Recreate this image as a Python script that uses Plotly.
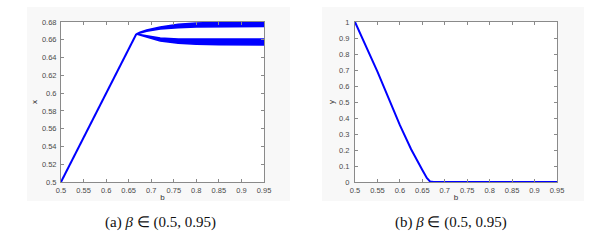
import plotly.graph_objects as go

# ---- data ----
b_rise = [0.5, 0.55, 0.6, 0.65, 0.667]
x_rise = [0.5, 0.55, 0.6, 0.65, 0.6665]

b_split = [0.667, 0.675, 0.69, 0.72, 0.76, 0.80, 0.85, 0.90, 0.95]
upper_hi = [0.6665, 0.6685, 0.6710, 0.6745, 0.6775, 0.6790, 0.6795, 0.6795, 0.6795]
upper_lo = [0.6665, 0.6680, 0.6695, 0.6720, 0.6735, 0.6745, 0.6748, 0.6748, 0.6748]
lower_hi = [0.6665, 0.6660, 0.6645, 0.6620, 0.6610, 0.6610, 0.6610, 0.6610, 0.6610]
lower_lo = [0.6665, 0.6655, 0.6630, 0.6585, 0.6560, 0.6550, 0.6545, 0.6540, 0.6540]

b_y = [0.5, 0.55, 0.6, 0.625, 0.65, 0.66, 0.667, 0.675, 0.95]
y_vals = [1.0, 0.69, 0.355, 0.205, 0.075, 0.025, 0.004, 0.0, 0.0]

x_ticks = [0.5, 0.55, 0.6, 0.65, 0.7, 0.75, 0.8, 0.85, 0.9, 0.95]
x_ticklabels = ["0.5", "0.55", "0.6", "0.65", "0.7", "0.75", "0.8", "0.85", "0.9", "0.95"]
left_yticks = [0.5, 0.52, 0.54, 0.56, 0.58, 0.6, 0.62, 0.64, 0.66, 0.68]
left_yticklabels = ["0.5", "0.52", "0.54", "0.56", "0.58", "0.6", "0.62", "0.64", "0.66", "0.68"]
right_yticks = [0, 0.1, 0.2, 0.3, 0.4, 0.5, 0.6, 0.7, 0.8, 0.9, 1]
right_yticklabels = ["0", "0.1", "0.2", "0.3", "0.4", "0.5", "0.6", "0.7", "0.8", "0.9", "1"]

captions = ["(a) <i>β</i> ∈ (0.5, 0.95)", "(b) <i>β</i> ∈ (0.5, 0.95)"]

BLUE = "#0000ff"
W, H = 607, 241

fig = go.Figure()

# left panel
fig.add_trace(go.Scatter(x=b_rise, y=x_rise, mode="lines",
                         line=dict(color=BLUE, width=2), xaxis="x", yaxis="y",
                         showlegend=False))
for hi, lo in [(upper_hi, upper_lo), (lower_hi, lower_lo)]:
    fig.add_trace(go.Scatter(x=b_split + b_split[::-1], y=hi + lo[::-1],
                             mode="lines", fill="toself", fillcolor=BLUE,
                             line=dict(color=BLUE, width=1.5),
                             xaxis="x", yaxis="y", showlegend=False))

# right panel
fig.add_trace(go.Scatter(x=b_y, y=y_vals, mode="lines",
                         line=dict(color=BLUE, width=2), xaxis="x2", yaxis="y2",
                         showlegend=False))

ydom = [1 - 182 / H, 1 - 22 / H]
TF = dict(family="Liberation Sans", size=7.5, color="#4a4a4a")
LF = dict(family="Liberation Sans", size=8, color="#333")
axis_common = dict(showline=True, linecolor="#8a8a8a", linewidth=1, mirror="ticks",
                   ticks="inside", ticklen=3, tickcolor="#8a8a8a", showgrid=False,
                   zeroline=False, tickfont=TF, automargin=False)

fig.update_layout(
    width=W, height=H, margin=dict(l=0, r=0, t=0, b=0, autoexpand=False),
    paper_bgcolor="white", plot_bgcolor="white",
    xaxis=dict(domain=[61 / W, 264 / W], range=[0.5, 0.95], tickvals=x_ticks,
               ticktext=x_ticklabels, anchor="y", ticklabelstandoff=1,
               title=dict(text="b", font=LF, standoff=0), **axis_common),
    yaxis=dict(domain=ydom, range=[0.5, 0.68], tickvals=left_yticks,
               ticktext=left_yticklabels, anchor="x", ticklabelstandoff=2,
               title=dict(text="x", font=LF, standoff=3), **axis_common),
    xaxis2=dict(domain=[355 / W, 557 / W], range=[0.5, 0.95], tickvals=x_ticks,
                ticktext=x_ticklabels, anchor="y2", ticklabelstandoff=1,
                title=dict(text="b", font=LF, standoff=0), **axis_common),
    yaxis2=dict(domain=ydom, range=[0, 1], tickvals=right_yticks,
                ticktext=right_yticklabels, anchor="x2", ticklabelstandoff=3,
                title=dict(text="y", font=LF, standoff=3), **axis_common),
    shapes=[
        dict(type="rect", xref="paper", yref="paper", x0=27 / W, x1=290 / W,
             y0=1 - 201 / H, y1=1 - 7 / H, fillcolor="#f8f8f8", line=dict(width=0), layer="below"),
        dict(type="rect", xref="paper", yref="paper", x0=322 / W, x1=584 / W,
             y0=1 - 201 / H, y1=1 - 7 / H, fillcolor="#f8f8f8", line=dict(width=0), layer="below"),
        dict(type="rect", xref="x domain", yref="y domain", x0=0, x1=1, y0=0, y1=1,
             fillcolor="white", line=dict(width=0), layer="below"),
        dict(type="rect", xref="x2 domain", yref="y2 domain", x0=0, x1=1, y0=0, y1=1,
             fillcolor="white", line=dict(width=0), layer="below"),
    ],
    annotations=[
        dict(text=captions[0], xref="paper", yref="paper", x=160 / W, y=1 - 222 / H,
             xanchor="center", yanchor="middle",
             showarrow=False, font=dict(family="Liberation Serif", size=15, color="#111")),
        dict(text=captions[1], xref="paper", yref="paper", x=451 / W, y=1 - 222 / H,
             xanchor="center", yanchor="middle",
             showarrow=False, font=dict(family="Liberation Serif", size=15, color="#111")),
    ],
)

fig.write_html("out.html", config={"displayModeBar": False},
               post_script="document.body.style.margin='0px';document.body.style.overflow='hidden';")
